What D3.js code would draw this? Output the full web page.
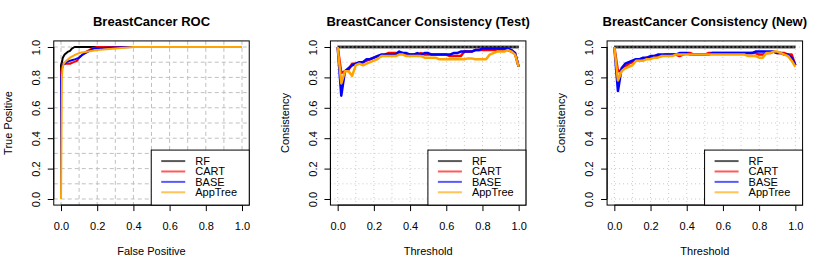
<!DOCTYPE html>
<meta charset="utf-8">
<head>
  <title>BreastCancer ROC and Consistency</title>
  <style>
    body { margin: 0; background: #fff; }
    text { font-family: "Liberation Sans", Arial, sans-serif; }
  </style>
</head>
<body>
<div id="my_dataviz"></div>
<script src="https://d3js.org/d3.v7.min.js"></script>
<script>

// ---- data ----
var models = ["RF", "CART", "BASE", "AppTree"];
var modelColors = ["#000000", "#ff0000", "#0000ff", "#ffa500"];
var tickValues = [0, 0.2, 0.4, 0.6, 0.8, 1.0];
var gridValues = [0, 0.1, 0.2, 0.3, 0.4, 0.5, 0.6, 0.7, 0.8, 0.9, 1.0];

// ROC curves (false positive, true positive)
var rocRF_fp = [0, 0, 0.005, 0.01, 0.02, 0.03, 0.04, 0.05, 0.06, 0.075, 0.1, 1.0];
var rocRF_tp = [0, 0.88, 0.9, 0.93, 0.95, 0.96, 0.97, 0.975, 0.99, 1.0, 1.0, 1.0];
var rocCART_fp = [0, 0, 0.005, 0.01, 0.03, 0.05, 0.07, 0.09, 0.10, 0.12, 0.14, 0.17, 0.2, 1.0];
var rocCART_tp = [0, 0.83, 0.87, 0.89, 0.89, 0.89, 0.90, 0.91, 0.93, 0.95, 0.97, 0.99, 1.0, 1.0];
var rocBASE_fp = [0, 0, 0.005, 0.01, 0.03, 0.05, 0.08, 0.1, 0.12, 0.15, 0.18, 0.25, 0.4, 1.0];
var rocBASE_tp = [0, 0.78, 0.85, 0.88, 0.90, 0.91, 0.92, 0.93, 0.95, 0.97, 0.99, 0.995, 1.0, 1.0];
var rocApp_fp = [0, 0.005, 0.008, 0.015, 0.03, 0.05, 0.08, 0.1, 0.15, 0.2, 0.3, 0.4, 1.0];
var rocApp_tp = [0, 0.80, 0.86, 0.89, 0.91, 0.93, 0.95, 0.96, 0.97, 0.98, 0.99, 1.0, 1.0];

// consistency vs threshold
var thresholds = [0, 0.02, 0.04, 0.06, 0.08, 0.1, 0.12, 0.14, 0.16, 0.18, 0.2,
  0.22, 0.24, 0.26, 0.28, 0.3, 0.32, 0.34, 0.36, 0.38, 0.4,
  0.42, 0.44, 0.46, 0.48, 0.5, 0.52, 0.54, 0.56, 0.58, 0.6,
  0.62, 0.64, 0.66, 0.68, 0.7, 0.72, 0.74, 0.76, 0.78, 0.8,
  0.82, 0.84, 0.86, 0.88, 0.9, 0.92, 0.94, 0.96, 0.98, 1.0];

var testRF = [1, 1, 1, 1, 1, 1, 1, 1, 1, 1, 1,
  1, 1, 1, 1, 1, 1, 1, 1, 1, 1,
  1, 1, 1, 1, 1, 1, 1, 1, 1, 1,
  1, 1, 1, 1, 1, 1, 1, 1, 1, 1,
  1, 1, 1, 1, 1, 1, 1, 1, 1, 1];
var testCART = [1.00, 0.83, 0.84, 0.85, 0.89, 0.89, 0.89, 0.90, 0.91, 0.92, 0.93,
  0.94, 0.94, 0.95, 0.96, 0.96, 0.96, 0.96, 0.96, 0.95, 0.95,
  0.95, 0.95, 0.96, 0.95, 0.95, 0.95, 0.95, 0.95, 0.95, 0.95,
  0.94, 0.94, 0.94, 0.94, 0.97, 0.97, 0.97, 0.98, 0.98, 0.98,
  0.98, 0.98, 0.98, 0.98, 0.98, 0.98, 0.98, 0.97, 0.96, 0.87];
var testBASE = [1.00, 0.68, 0.84, 0.86, 0.88, 0.89, 0.90, 0.90, 0.92, 0.92, 0.93,
  0.94, 0.95, 0.95, 0.95, 0.95, 0.95, 0.97, 0.96, 0.96, 0.95,
  0.95, 0.96, 0.95, 0.96, 0.96, 0.95, 0.95, 0.95, 0.95, 0.95,
  0.95, 0.96, 0.96, 0.97, 0.97, 0.97, 0.97, 0.98, 0.98, 0.99,
  0.99, 0.99, 0.99, 0.99, 0.99, 0.99, 0.99, 0.98, 0.96, 0.87];
var testApp = [1.00, 0.76, 0.84, 0.84, 0.81, 0.88, 0.89, 0.88, 0.89, 0.90, 0.91,
  0.92, 0.94, 0.94, 0.94, 0.94, 0.94, 0.95, 0.95, 0.94, 0.94,
  0.94, 0.94, 0.94, 0.93, 0.93, 0.93, 0.93, 0.92, 0.92, 0.92,
  0.92, 0.92, 0.92, 0.92, 0.92, 0.925, 0.925, 0.92, 0.92, 0.92,
  0.92, 0.95, 0.96, 0.97, 0.97, 0.97, 0.98, 0.97, 0.95, 0.87];

var newRF = testRF;
var newCART = [1.00, 0.84, 0.85, 0.87, 0.89, 0.90, 0.91, 0.92, 0.92, 0.93, 0.93,
  0.94, 0.94, 0.94, 0.95, 0.95, 0.95, 0.95, 0.94, 0.95, 0.96,
  0.96, 0.95, 0.95, 0.95, 0.95, 0.96, 0.96, 0.96, 0.96, 0.96,
  0.96, 0.96, 0.96, 0.96, 0.96, 0.96, 0.96, 0.96, 0.96, 0.95,
  0.95, 0.96, 0.96, 0.97, 0.96, 0.96, 0.96, 0.95, 0.95, 0.88];
var newBASE = [1.00, 0.71, 0.86, 0.89, 0.90, 0.91, 0.92, 0.92, 0.93, 0.93, 0.94,
  0.94, 0.95, 0.95, 0.95, 0.95, 0.95, 0.95, 0.96, 0.96, 0.96,
  0.95, 0.95, 0.95, 0.95, 0.95, 0.95, 0.96, 0.96, 0.96, 0.96,
  0.96, 0.96, 0.96, 0.96, 0.96, 0.96, 0.96, 0.96, 0.97, 0.97,
  0.97, 0.97, 0.97, 0.97, 0.96, 0.96, 0.95, 0.95, 0.93, 0.88];
var newApp = [1.00, 0.78, 0.84, 0.86, 0.87, 0.88, 0.91, 0.91, 0.91, 0.92, 0.92,
  0.93, 0.93, 0.94, 0.94, 0.94, 0.94, 0.95, 0.95, 0.95, 0.95,
  0.95, 0.95, 0.95, 0.95, 0.95, 0.95, 0.95, 0.95, 0.95, 0.95,
  0.95, 0.95, 0.95, 0.95, 0.95, 0.95, 0.94, 0.94, 0.94, 0.93,
  0.93, 0.96, 0.96, 0.97, 0.97, 0.96, 0.95, 0.94, 0.91, 0.87];

// ---- layout ----
var width = 830, height = 260;
var panelW = width / 3;

var svg = d3.select("#my_dataviz")
  .append("svg")
    .attr("width", width)
    .attr("height", height);

function zip(xs, ys) {
  return xs.map(function(v, i) { return [v, ys[i]]; });
}

function drawPanel(idx, opts) {
  var px = idx * panelW;
  var x = d3.scaleLinear().domain([0, 1]).range([px + 61, px + 242]);
  var y = d3.scaleLinear().domain([0, 1]).range([199, 47]);
  var bx0 = x(-0.04), bx1 = x(1.04), by0 = y(1.04), by1 = y(-0.04);

  var g = svg.append("g");

  // grid
  var grid = g.append("g")
    .attr("stroke", opts.gridColor)
    .attr("stroke-width", 1)
    .attr("stroke-dasharray", opts.gridDash);
  grid.selectAll("line.v").data(gridValues).enter().append("line")
    .attr("x1", function(d) { return x(d); }).attr("x2", function(d) { return x(d); })
    .attr("y1", by0).attr("y2", by1);
  grid.selectAll("line.h").data(gridValues).enter().append("line")
    .attr("y1", function(d) { return y(d); }).attr("y2", function(d) { return y(d); })
    .attr("x1", bx0).attr("x2", bx1);

  // series
  var line = d3.line()
    .x(function(d) { return x(d[0]); })
    .y(function(d) { return y(d[1]); });

  opts.series.forEach(function(s, i) {
    if (opts.rfDashed && i === 0) {
      g.append("path").datum(s)
        .attr("d", line).attr("fill", "none")
        .attr("stroke", "#555").attr("stroke-width", 3);
      g.append("path").datum(s)
        .attr("d", line).attr("fill", "none")
        .attr("stroke", "#000").attr("stroke-width", 1.5)
        .attr("stroke-dasharray", "2,2");
      return;
    }
    g.append("path").datum(s)
      .attr("d", line)
      .attr("fill", "none")
      .attr("stroke", modelColors[i])
      .attr("stroke-width", opts.lineWidth)
      .attr("stroke-linejoin", "round");
  });

  // box
  g.append("rect")
    .attr("x", bx0).attr("y", by0)
    .attr("width", bx1 - bx0).attr("height", by1 - by0)
    .attr("fill", "none").attr("stroke", "#000").attr("stroke-width", 1);

  // axes
  var xAxis = d3.axisBottom(x).tickValues(tickValues).tickSize(6).tickPadding(4)
    .tickFormat(d3.format(".1f"));
  var ax = g.append("g").attr("transform", "translate(0," + by1 + ")").call(xAxis);
  ax.select(".domain").attr("d", "M" + x(0) + ",0H" + x(1));
  ax.selectAll("text").attr("font-size", 11).attr("fill", "#000")
    .attr("font-family", "Liberation Sans, Arial, sans-serif")
    .attr("dy", null).attr("y", 25);
  ax.selectAll("line").attr("stroke", "#000");

  var yAxis = d3.axisLeft(y).tickValues(tickValues).tickSize(6)
    .tickFormat(d3.format(".1f"));
  var ay = g.append("g").attr("transform", "translate(" + bx0 + ",0)").call(yAxis);
  ay.select(".domain").attr("d", "M0," + y(0) + "V" + y(1));
  ay.selectAll("text")
    .attr("font-size", 11).attr("fill", "#000")
    .attr("font-family", "Liberation Sans, Arial, sans-serif")
    .attr("text-anchor", "middle")
    .attr("x", null).attr("dy", null)
    .attr("transform", "translate(" + (px + 40 - bx0) + ",0) rotate(-90)");
  ay.selectAll("line").attr("stroke", "#000");

  // title and labels
  g.append("text")
    .attr("x", (bx0 + bx1) / 2).attr("y", 26)
    .attr("text-anchor", "middle")
    .attr("font-size", 13).attr("font-weight", "bold")
    .text(opts.title);
  g.append("text")
    .attr("x", (bx0 + bx1) / 2).attr("y", 255)
    .attr("text-anchor", "middle")
    .attr("font-size", 11)
    .text(opts.xlab);
  g.append("text")
    .attr("transform", "translate(" + (px + 12) + "," + ((y(0) + y(1)) / 2) + ") rotate(-90)")
    .attr("text-anchor", "middle")
    .attr("font-size", 11)
    .text(opts.ylab);

  // legend (bottom right)
  var lw = 98, lh = 55;
  var lx = bx1 - lw, ly = by1 - lh;
  var leg = g.append("g");
  leg.append("rect")
    .attr("x", lx).attr("y", ly).attr("width", lw).attr("height", lh)
    .attr("fill", "#fff").attr("stroke", "#000").attr("stroke-width", 1);
  models.forEach(function(m, i) {
    var ry = ly + 11 + i * 10.4;
    leg.append("line")
      .attr("x1", lx + 10).attr("x2", lx + 34)
      .attr("y1", ry).attr("y2", ry)
      .attr("stroke", modelColors[i]).attr("stroke-opacity", 0.65)
      .attr("stroke-width", 2);
    leg.append("text")
      .attr("x", lx + 44).attr("y", ry + 4)
      .attr("font-size", 11)
      .text(m);
  });
}

drawPanel(0, {
  title: "BreastCancer ROC",
  xlab: "False Positive",
  ylab: "True Positive",
  gridColor: "#c0c0c0",
  gridDash: "4,3",
  lineWidth: 2,
  rfDashed: false,
  series: [zip(rocRF_fp, rocRF_tp), zip(rocCART_fp, rocCART_tp),
           zip(rocBASE_fp, rocBASE_tp), zip(rocApp_fp, rocApp_tp)]
});

drawPanel(1, {
  title: "BreastCancer Consistency (Test)",
  xlab: "Threshold",
  ylab: "Consistency",
  gridColor: "#c8c8c8",
  gridDash: "1,3",
  lineWidth: 2.5,
  rfDashed: true,
  series: [zip(thresholds, testRF), zip(thresholds, testCART),
           zip(thresholds, testBASE), zip(thresholds, testApp)]
});

drawPanel(2, {
  title: "BreastCancer Consistency (New)",
  xlab: "Threshold",
  ylab: "Consistency",
  gridColor: "#c8c8c8",
  gridDash: "1,3",
  lineWidth: 2.5,
  rfDashed: true,
  series: [zip(thresholds, newRF), zip(thresholds, newCART),
           zip(thresholds, newBASE), zip(thresholds, newApp)]
});

</script>
</body>
</html>
